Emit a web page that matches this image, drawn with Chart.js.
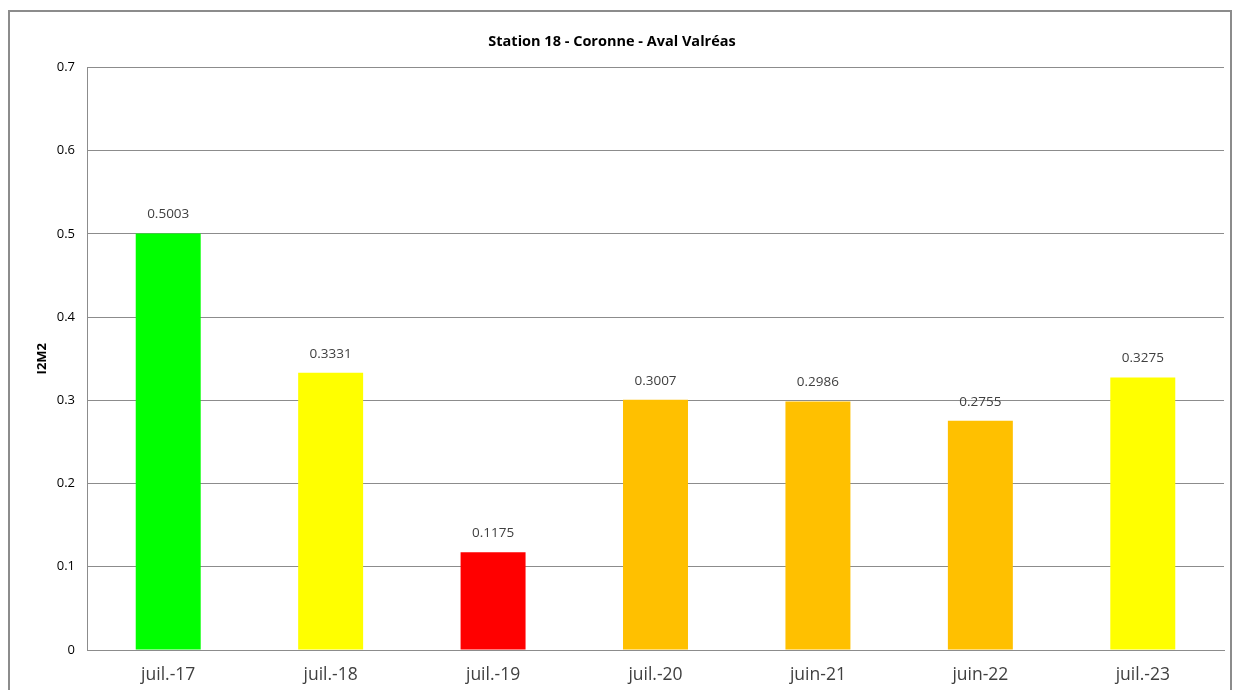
<!DOCTYPE html>
<html>
<head>
<meta charset="utf-8">
<script src="https://cdn.jsdelivr.net/npm/chart.js@4.4.0/dist/chart.umd.min.js"></script>
<style>
  html, body { margin: 0; padding: 0; background: #fff; }
  #wrap { width: 1233px; height: 690px; position: relative; }
</style>
</head>
<body>
<div id="wrap"><canvas id="grafico"></canvas></div>
<script>
// datos del graphique
const categories = ["juil.-17", "juil.-18", "juil.-19", "juil.-20", "juin-21", "juin-22", "juil.-23"]
const valeurs = [0.5003, 0.3331, 0.1175, 0.3007, 0.2986, 0.2755, 0.3275]
const couleurs = ["#00FF00", "#FFFF00", "#FF0000", "#FFC000", "#FFC000", "#FFC000", "#FFFF00"]
const yTicks = [0, 0.1, 0.2, 0.3, 0.4, 0.5, 0.6, 0.7]

// cadre exterieur + etiquettes de valeur
const cadre = {
  id: "cadre",
  beforeDraw(chart) {
    let ctx = chart.ctx
    ctx.save()
    ctx.strokeStyle = "#8c8c8c"
    ctx.lineWidth = 2
    ctx.strokeRect(9, 11, 1222, 700)
    ctx.restore()
  },
  afterDatasetsDraw(chart) {
    let ctx = chart.ctx
    let meta = chart.getDatasetMeta(0)
    ctx.save()
    ctx.font = "13.5px 'Open Sans'"
    ctx.fillStyle = "#404040"
    ctx.textAlign = "center"
    ctx.textBaseline = "middle"
    meta.data.forEach((bar, i) => {
      ctx.fillText(valeurs[i].toFixed(4), bar.x, bar.y - 19)
    })
    ctx.restore()
  }
}

new Chart(document.getElementById("grafico"), {
  type: "bar",
  data: {
    labels: categories,
    datasets: [{
      data: valeurs,
      backgroundColor: couleurs,
      borderWidth: 0,
      barPercentage: 0.4,
      categoryPercentage: 1
    }]
  },
  options: {
    responsive: true,
    maintainAspectRatio: false,
    animation: false,
    layout: { padding: { left: 0, right: 9, top: 0, bottom: 0 } },
    plugins: {
      legend: { display: false },
      tooltip: { enabled: false },
      title: {
        display: true,
        text: "Station 18 - Coronne - Aval Valréas",
        color: "#000",
        font: { family: "Open Sans", size: 14.5, weight: "bold" },
        padding: { top: 33, bottom: 17 }
      }
    },
    scales: {
      x: {
        afterFit: (scale) => { scale.height = 40 },
        grid: { display: false, drawTicks: false },
        border: { display: true, color: "#8c8c8c", width: 1 },
        ticks: {
          color: "#404040",
          padding: 15,
          font: { family: "Open Sans", size: 17.5 }
        }
      },
      y: {
        min: 0,
        max: 0.7,
        afterBuildTicks: (scale) => { scale.ticks = yTicks.map(v => ({ value: v })) },
        afterFit: (scale) => { scale.width = 87 },
        grid: { color: "#8c8c8c", lineWidth: 1, drawTicks: false },
        border: { display: true, color: "#8c8c8c", width: 1 },
        ticks: {
          color: "#000",
          padding: 12,
          font: { family: "Open Sans", size: 13 },
          callback: (v) => String(v)
        },
        title: {
          display: true,
          text: "I2M2",
          color: "#000",
          font: { family: "Open Sans", size: 13, weight: "bold" },
          padding: { top: 34, bottom: 0 }
        }
      }
    }
  },
  plugins: [cadre]
})
</script>
</body>
</html>
